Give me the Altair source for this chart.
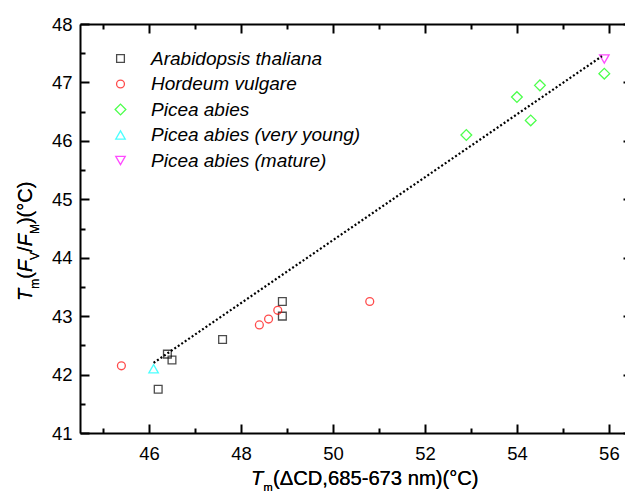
import altair as alt
import pandas as pd

# ---------------- data ----------------
species = ["Arabidopsis thaliana", "Hordeum vulgare", "Picea abies",
           "Picea abies (very young)", "Picea abies (mature)"]
colors = ["#000000", "#ff0000", "#00ff00", "#00ffff", "#ff00ff"]
shapes = ["square", "circle", "diamond", "triangle-up", "triangle-down"]
sizes = [60, 62, 115, 90, 90]

arab_x = [46.2, 46.4, 46.5, 47.6, 48.9, 48.9]
arab_y = [41.75, 42.35, 42.25, 42.6, 43.25, 43.0]
hord_x = [45.4, 48.4, 48.6, 48.8, 50.8]
hord_y = [42.15, 42.85, 42.95, 43.1, 43.25]
picea_x = [52.9, 54.0, 54.5, 54.3, 55.9]
picea_y = [46.1, 46.75, 46.95, 46.35, 47.15]
young_x = [46.1]
young_y = [42.1]
mature_x = [55.9]
mature_y = [47.4]

fit_x = [46.1, 55.85]
fit_y = [42.2, 47.45]

x_major = [46, 48, 50, 52, 54, 56]
x_minor = [45, 47, 49, 51, 53, 55]
y_major = [41, 42, 43, 44, 45, 46, 47, 48]
y_minor = [41.5, 42.5, 43.5, 44.5, 45.5, 46.5, 47.5]

rows = []
for name, xs, ys in zip(species, [arab_x, hord_x, picea_x, young_x, mature_x],
                        [arab_y, hord_y, picea_y, young_y, mature_y]):
    for a, b in zip(xs, ys):
        rows.append({"species": name, "x": a, "y": b})
pts = pd.DataFrame(rows)
fit = pd.DataFrame({"x": fit_x, "y": fit_y})

# ---------------- layout ----------------
W, H = 545, 409
FONT = "Liberation Sans"
xs = alt.Scale(domain=[44.5, 56.35], nice=False, zero=False)
ys = alt.Scale(domain=[41, 48], nice=False, zero=False)


def ax(orient, values, size, labels=False, pad=0):
    kw = dict(orient=orient, values=values, tickSize=size, offset=-size,
              domain=False, grid=False, ticks=True, tickColor="black",
              tickWidth=2, labels=labels, title=None)
    if labels:
        kw.update(labelFont=FONT, labelFontSize=18.5, labelColor="black",
                  labelPadding=pad)
    return alt.Axis(**kw)


def dom(orient):
    return alt.Axis(orient=orient, domain=True, domainColor="black",
                    domainWidth=2, ticks=False, labels=False, grid=False,
                    title=None)


points = alt.Chart(pts).mark_point(filled=False, strokeWidth=1.3).encode(
    x=alt.X("x:Q", scale=xs, axis=ax("bottom", x_major, 9, True, 11.5)),
    y=alt.Y("y:Q", scale=ys, axis=ax("left", y_major, 9, True, 8)),
    color=alt.Color("species:N",
                    scale=alt.Scale(domain=species, range=colors),
                    legend=alt.Legend(orient="none", legendX=31, legendY=25,
                                      title=None, labelFont=FONT,
                                      labelFontSize=19,
                                      labelFontStyle="italic",
                                      labelColor="black", labelOffset=21,
                                      labelLimit=0,
                                      rowPadding=5.5, padding=0,
                                      symbolSize=70,
                                      symbolStrokeWidth=1.3)),
    shape=alt.Shape("species:N",
                    scale=alt.Scale(domain=species, range=shapes)),
    size=alt.Size("species:N",
                  scale=alt.Scale(type="ordinal", domain=species, range=sizes),
                  legend=None),
)

line = alt.Chart(fit).mark_line(color="black", strokeWidth=2.2,
                                strokeDash=[2, 2.2]).encode(
    x=alt.X("x:Q", scale=xs, axis=ax("bottom", x_minor, 5)),
    y=alt.Y("y:Q", scale=ys, axis=ax("left", y_minor, 5)),
)

# top ticks; the right frame lies just past the picture edge, so only the
# tips of its major ticks show
top_major = alt.Chart(fit).mark_point(opacity=0).encode(
    x=alt.X("x:Q", scale=xs, axis=ax("top", x_major, 9)),
    y=alt.Y("y:Q", scale=ys, axis=ax("right", y_major, 2)),
)
top_minor = alt.Chart(fit).mark_point(opacity=0).encode(
    x=alt.X("x:Q", scale=xs, axis=ax("top", x_minor, 5)),
    y=alt.Y("y:Q", scale=ys, axis=None),
)
frame_bl = alt.Chart(fit).mark_point(opacity=0).encode(
    x=alt.X("x:Q", scale=xs, axis=dom("bottom")),
    y=alt.Y("y:Q", scale=ys, axis=dom("left")),
)
frame_t = alt.Chart(fit).mark_point(opacity=0).encode(
    x=alt.X("x:Q", scale=xs, axis=dom("top")),
    y=alt.Y("y:Q", scale=ys, axis=None),
)


def txt(s, x, y, size=20, italic=False, angle=0):
    kw = dict(text=s, align="left", baseline="alphabetic", font=FONT,
              fontSize=size, color="black", angle=angle)
    if italic:
        kw["fontStyle"] = "italic"
    return alt.Chart(fit).mark_text(**kw).encode(
        x=alt.value(x), y=alt.value(y))


titles = [
    # x-axis title
    txt("T", 171, 461, size=20, italic=True),
    txt("m", 183.4, 467, size=11),
    txt("(\u0394CD,685-673 nm)(\u00b0C)", 193, 461, size=20.2),
    # y-axis title (rotated, pieces laid out bottom to top)
    txt("T", -48, 277, italic=True, angle=270),
    txt("m", -41, 264.8, size=12, angle=270),
    txt("(", -48, 254.8, angle=270),
    txt("F", -48, 248.1, italic=True, angle=270),
    txt("V", -41, 235.9, size=12, angle=270),
    txt("/", -48, 227.9, angle=270),
    txt("F", -48, 222.3, italic=True, angle=270),
    txt("M", -41, 210.1, size=12, angle=270),
    txt(")(\u00b0C)", -48, 200.1, angle=270),
]

chart = alt.layer(points, line, top_major, top_minor, frame_bl, frame_t,
                  *titles).resolve_axis(x="independent", y="independent") \
    .properties(width=W, height=H,
                autosize=alt.AutoSizeParams(type="none"),
                padding={"left": 80, "top": 24, "right": 0, "bottom": 60}) \
    .configure_view(stroke=None) \
    .configure(background="white")

chart.save("out.html", embed_options={"renderer": "svg", "actions": False})
